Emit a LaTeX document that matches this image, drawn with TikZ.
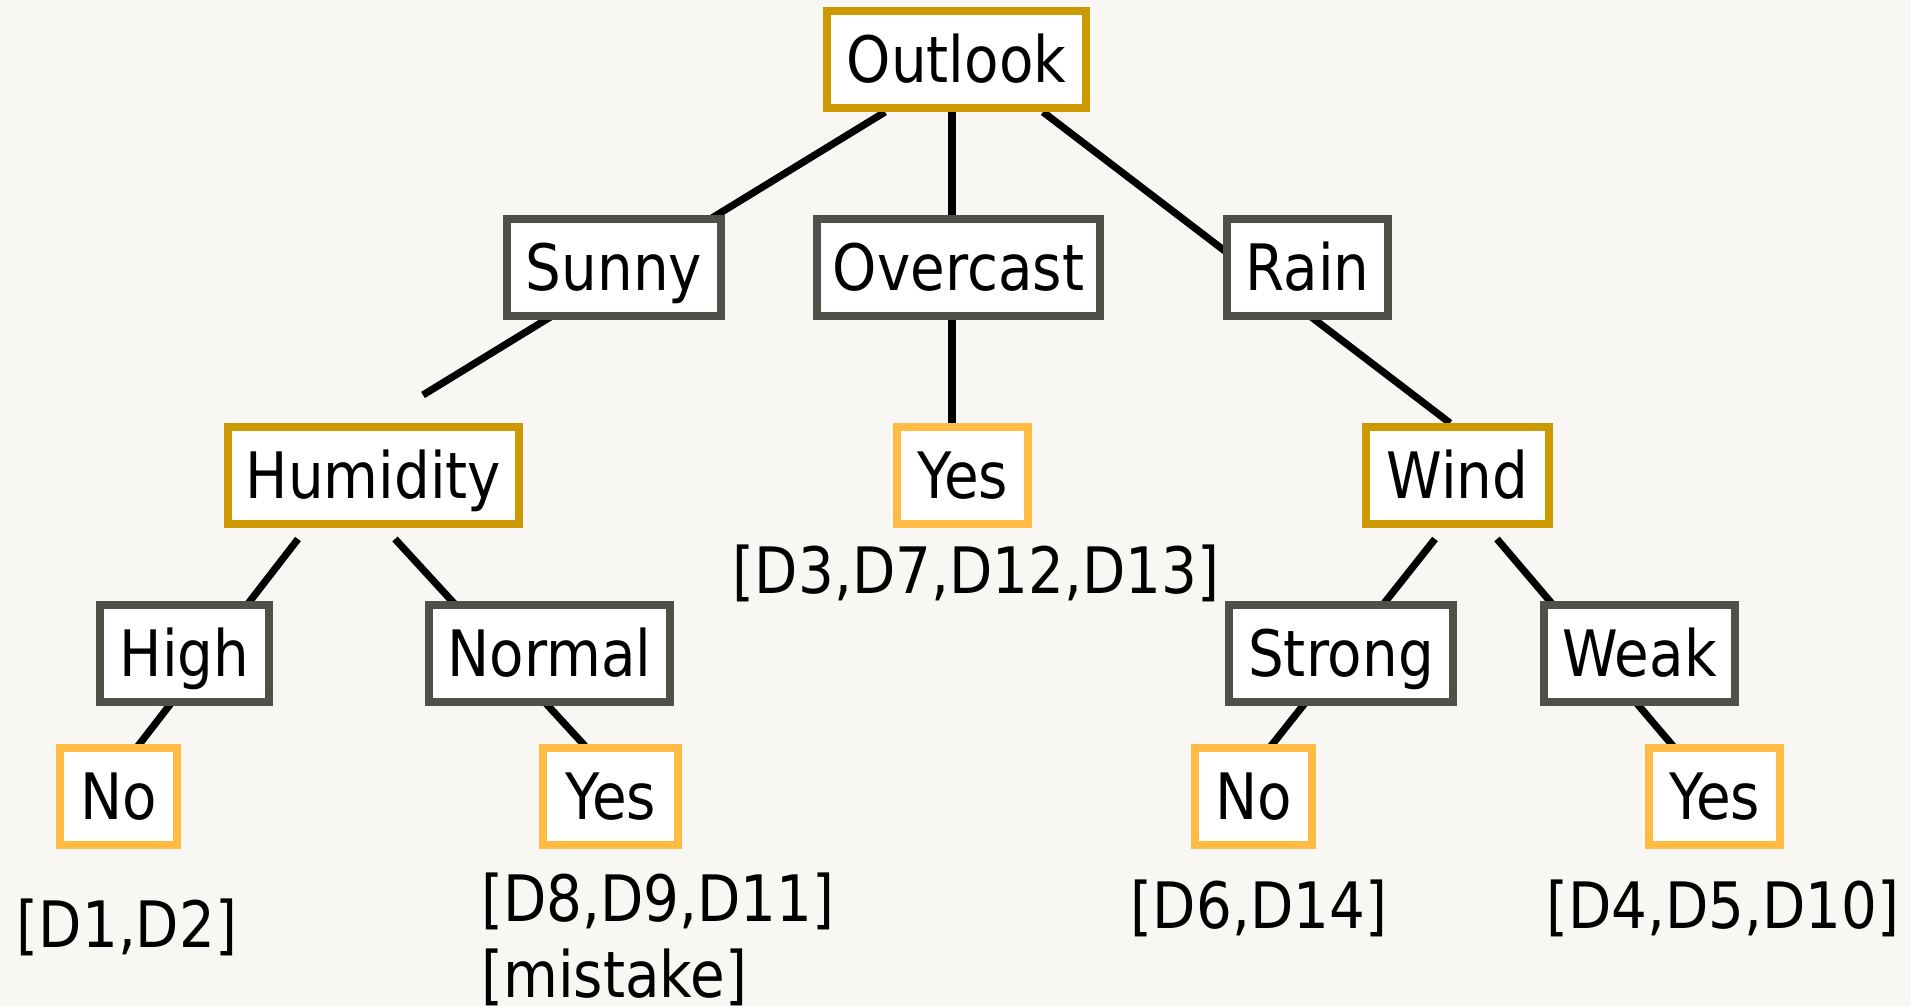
\documentclass[tikz,border=0pt]{standalone}
\usepackage{fontspec}
\setmainfont{DejaVu Sans}[FakeStretch=0.88]
\usetikzlibrary{calc}
\definecolor{bgcol}{HTML}{F8F7F3}
\definecolor{gold}{HTML}{CC9900}
\definecolor{slate}{HTML}{505048}
\definecolor{amber}{HTML}{FFBB44}
\pgfdeclarelayer{background}
\pgfsetlayers{background,main}
\begin{document}
\begin{tikzpicture}[x=0.5pt,y=-0.5pt,
  every node/.style={font=\fontsize{32}{38}\selectfont, text height=23.3pt,
    text depth=0pt, inner sep=0pt},
  box/.style={draw, fill=white, line width=4pt, minimum height=48.5pt,
    minimum width=#1*0.5pt},
  attr/.style={box=#1, draw=gold},
  val/.style={box=#1, draw=slate},
  leaf/.style={box=#1, draw=amber},
  branch/.style={line width=3.6pt, black}]

% attribute tests, branch values and leaves
\node[attr=259] (outlook)  at (956.5,59.5)   {Outlook};
\node[val=214]  (sunny)    at (614,267.5)    {Sunny};
\node[val=283]  (overcast) at (958.5,267.5)  {Overcast};
\node[val=161]  (rain)     at (1307.5,267.5) {Rain};
\node[attr=291] (humidity) at (373.5,475.5)  {Humidity};
\node[leaf=131] (yesO)     at (962.5,475.5)  {Yes};
\node[attr=183] (wind)     at (1457.5,475.5) {Wind};
\node[val=169]  (high)     at (184.5,653.5)  {High};
\node[val=241]  (normal)   at (549.5,653.5)  {Normal};
\node[val=224]  (strong)   at (1341,653.5)   {Strong};
\node[val=191]  (weak)     at (1639.5,653.5) {Weak};
\node[leaf=117] (noH)      at (118.5,796.5)  {No};
\node[leaf=135] (yesN)     at (610.5,796.5)  {Yes};
\node[leaf=117] (noS)      at (1253.5,796.5) {No};
\node[leaf=131] (yesW)     at (1714.5,796.5) {Yes};

% training examples reaching each leaf
\node (dO) at (976,570)    {[D3,D7,D12,D13]};
\node (dH) at (127,924.5)  {[D1,D2]};
\node[anchor=west] (dN) at (481,898) {[D8,D9,D11]};
\node[anchor=west] (mistake) at (481,974) {[mistake]};
\node (dS) at (1259,905)   {[D6,D14]};
\node (dW) at (1723,905)   {[D4,D5,D10]};

\begin{pgfonlayer}{background}
  \path[use as bounding box, fill=bgcol] (0,0) rectangle (1911,1006);
  \draw[branch] ($(outlook.south)+(-71.5,0)$) -- ($(humidity.north)+(49.5,-28)$);
  \draw[branch] ($(outlook.south)+(-4.5,0)$)  -- ($(yesO.north)+(-10.5,0)$);
  \draw[branch] ($(outlook.south)+(86.5,0)$)  -- ($(wind.north)+(-7.5,0)$);
  \draw[branch] ($(humidity.south)+(-75.5,11)$) -- ($(noH.north)+(19.5,2)$);
  \draw[branch] ($(humidity.south)+(21.5,11)$)  -- ($(yesN.north)+(-25.5,2)$);
  \draw[branch] ($(wind.south)+(-22.5,11)$) -- ($(noS.north)+(17.5,2)$);
  \draw[branch] ($(wind.south)+(39.5,11)$)  -- ($(yesW.north)+(-41.5,2)$);
\end{pgfonlayer}
\end{tikzpicture}
\end{document}
